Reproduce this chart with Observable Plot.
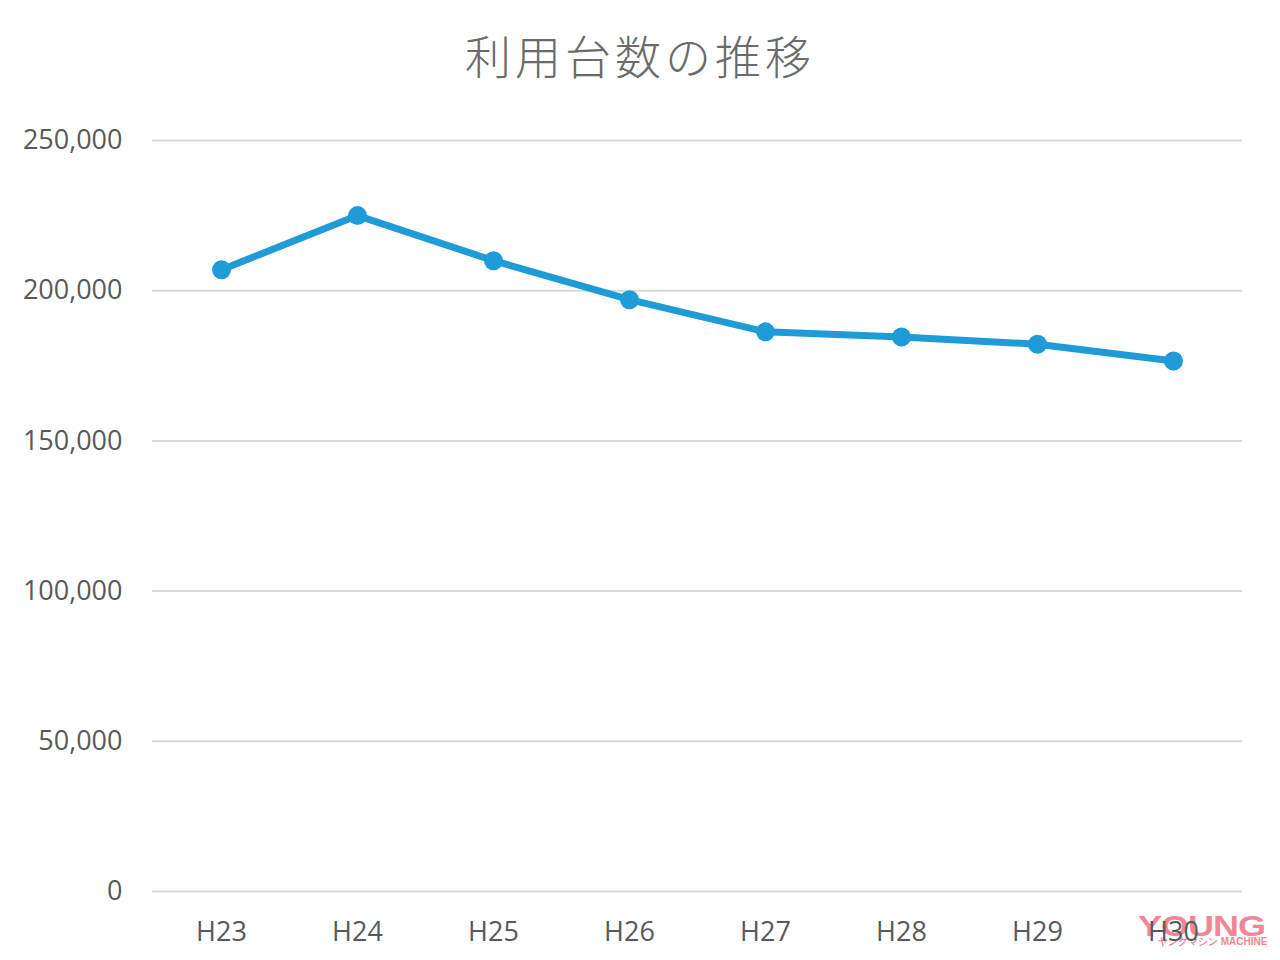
<!DOCTYPE html>
<html>
<head>
<meta charset="utf-8">
<script src="https://cdn.jsdelivr.net/npm/d3@7"></script>
<script src="https://cdn.jsdelivr.net/npm/@observablehq/plot@0.6"></script>
<style>
  html, body { margin: 0; padding: 0; background: #fff; }
  #wrap { position: relative; width: 1280px; height: 960px; overflow: hidden; }
  #title { height: 100px; line-height: 108px; text-align: center; font-family: "Noto Sans CJK JP", sans-serif; font-weight: 300; font-size: 46px; color: #6b6b6b; letter-spacing: 4px; }
  #chart { position: relative; z-index: 2; }
  #wm { position: absolute; z-index: 1; left: 1138px; top: 912px; color: #f07a89; font-family: "Liberation Sans", sans-serif; font-weight: bold; line-height: 1; opacity: 0.9; }
  #wm .big { font-size: 36px; letter-spacing: -1px; transform: scaleY(0.8); transform-origin: top left; display: block; }
  #wm .small { font-size: 10px; position: absolute; top: 25px; left: 20px; white-space: nowrap; }
</style>
</head>
<body>
<div id="wrap">
  <div id="title">利用台数の推移</div>
  <div id="wm"><span class="big">YOUNG</span><span class="small">ヤングマシン MACHINE</span></div>
  <div id="chart"></div>
</div>
<script>
const categories = ["H23", "H24", "H25", "H26", "H27", "H28", "H29", "H30"];
const values = [207000, 225000, 210000, 197000, 186300, 184600, 182200, 176600];
const yTicks = [0, 50000, 100000, 150000, 200000, 250000];

const data = categories.map((c, i) => ({ year: c, value: values[i] }));
const fmt = d3.format(",");
const blue = "#1f9bd8";

const chart = Plot.plot({
  width: 1280,
  height: 860,
  marginTop: 40,
  marginBottom: 69,
  marginLeft: 152,
  marginRight: 38,
  style: { fontFamily: "'Open Sans', 'Noto Sans', sans-serif", fontSize: "27px", color: "#595959", background: "transparent" },
  x: { type: "point", domain: categories, padding: 0.5, label: null },
  y: { domain: [0, 250000], label: null },
  marks: [
    Plot.gridY(yTicks, { stroke: "#d9d9d9", strokeOpacity: 1, strokeWidth: 2 }),
    Plot.axisY(yTicks, { tickSize: 0, tickPadding: 30, tickFormat: fmt, fill: "#595959", fontSize: 27, label: null }),
    Plot.axisX(categories, { tickSize: 0, tickPadding: 30, fill: "#595959", fontSize: 27, label: null }),
    Plot.line(data, { x: "year", y: "value", stroke: blue, strokeWidth: 7, strokeLinejoin: "round" }),
    Plot.dot(data, { x: "year", y: "value", r: 9.5, fill: blue, stroke: null })
  ]
});
document.getElementById("chart").appendChild(chart);
</script>
</body>
</html>
